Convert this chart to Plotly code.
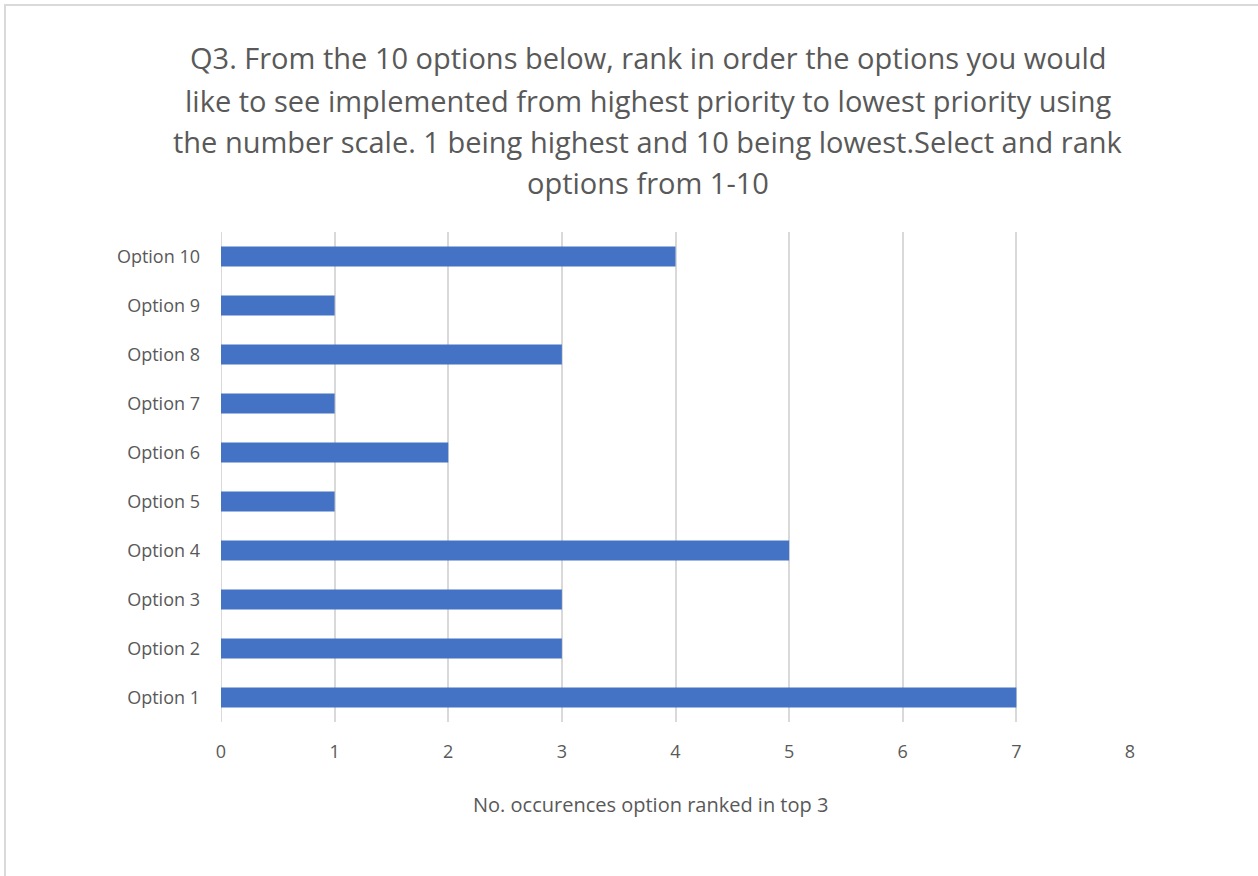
import plotly.graph_objects as go

categories = ["Option 1", "Option 2", "Option 3", "Option 4", "Option 5",
              "Option 6", "Option 7", "Option 8", "Option 9", "Option 10"]
counts = [7, 3, 3, 5, 1, 2, 1, 3, 1, 4]
x_ticks = [0, 1, 2, 3, 4, 5, 6, 7, 8]

title_lines = [
    "Q3. From the 10 options below, rank in order the options you would",
    "like to see implemented from highest priority to lowest priority using",
    "the number scale. 1 being highest and 10 being lowest.Select and rank",
    "options from 1-10",
]
x_title = "No. occurences option ranked in top 3"

W, H = 1258, 876
L, R, T, B = 221, 128, 232, 154
pw, ph = W - L - R, H - T - B

FONT = "Open Sans"
GREY = "#595959"

fig = go.Figure(go.Bar(
    x=counts, y=categories, orientation="h",
    marker=dict(color="#4472C4", line=dict(width=0)),
    width=0.41,
))

fig.update_layout(
    width=W, height=H,
    margin=dict(l=L, r=R, t=T, b=B),
    paper_bgcolor="white", plot_bgcolor="white",
    showlegend=False,
    font=dict(family=FONT, color=GREY),
    xaxis=dict(
        range=[0, 8], tickvals=x_ticks, ticktext=[str(v) for v in x_ticks],
        showgrid=True, gridcolor="#D9D9D9", gridwidth=2,
        zeroline=False, showline=False,
        tickfont=dict(size=18, color=GREY), ticks="", ticklabelstandoff=17,
    ),
    yaxis=dict(
        categoryorder="array", categoryarray=categories,
        range=[-0.5, 9.5], showgrid=False, zeroline=False, showline=False,
        tickfont=dict(size=18, color=GREY), ticks="", ticklabelstandoff=20,
    ),
)

# Left edge gridline at zero
fig.add_shape(type="line", xref="x", yref="paper", x0=0, x1=0, y0=0, y1=1,
              line=dict(color="#D9D9D9", width=2), layer="below")

def px_x(px):
    return (px - L) / pw

def px_y(py):
    return (H - B - py) / ph

# Multi-line chart title
title_y = [58, 100, 141, 182]
for line, yc in zip(title_lines, title_y):
    fig.add_annotation(text=line, xref="paper", yref="paper",
                       x=px_x(648), y=px_y(yc), xanchor="center", yanchor="middle",
                       showarrow=False, font=dict(size=29, color=GREY, family=FONT))

# Axis title
fig.add_annotation(text=x_title, xref="paper", yref="paper",
                   x=px_x(650), y=px_y(804), xanchor="center", yanchor="middle",
                   showarrow=False, font=dict(size=20, color=GREY, family=FONT))

# Chart border (open at right and bottom)
fig.add_shape(type="rect", xref="paper", yref="paper",
              x0=px_x(5), y0=px_y(H + 10), x1=px_x(W + 10), y1=px_y(5),
              line=dict(color="#D9D9D9", width=2), fillcolor="rgba(0,0,0,0)")

fig.write_html("out.html")
